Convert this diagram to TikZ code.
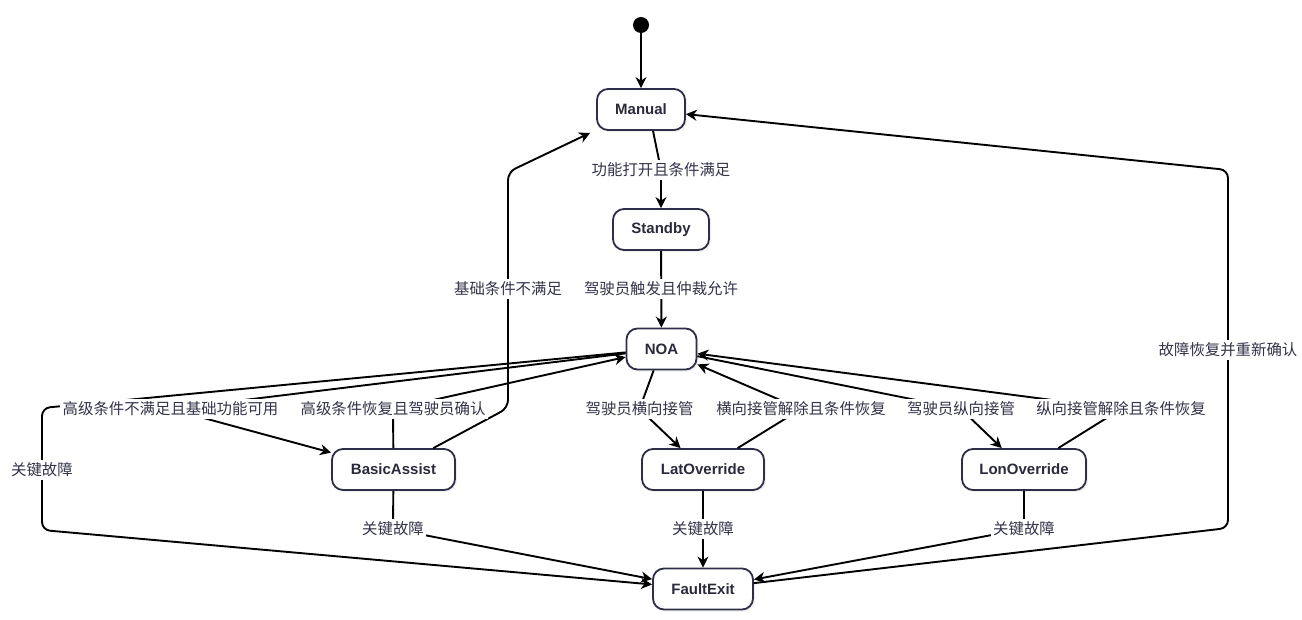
\documentclass[tikz,border=0pt]{standalone}
\usepackage{fontspec}
\setmainfont{Liberation Sans}
\newfontfamily\cjk{Noto Sans CJK SC}
\usetikzlibrary{arrows.meta,shadows}
\definecolor{nodeborder}{HTML}{2E2E48}
\definecolor{nodetext}{HTML}{2A2A3C}
\definecolor{labeltext}{HTML}{33334A}
\begin{document}
\begin{tikzpicture}[x=1pt,y=-1pt,
  state/.style={draw=nodeborder, line width=1.8pt, rounded corners=11pt, fill=white,
    minimum height=41pt, inner sep=0pt, text=nodetext,
    font=\fontsize{15}{17}\selectfont\bfseries,
    drop shadow={shadow xshift=2pt, shadow yshift=-2pt, opacity=0.12}},
  edge/.style={draw=black, line width=1.9pt, rounded corners=8pt,
    -{Stealth[length=11pt,width=11pt,inset=3.5pt]}},
  lab/.style={fill=white, text=labeltext, inner sep=2.5pt,
    font=\cjk\fontsize{15.4}{17}\selectfont}
]
\useasboundingbox (0,0) rectangle (1302,619);

% states
\node[circle, fill=black, minimum size=16pt, inner sep=0pt] (start) at (641,25) {};
\node[state, minimum width=88pt]  (Manual)  at (641,109.5) {Manual};
\node[state, minimum width=96pt]  (Standby) at (661,229.5) {Standby};
\node[state, minimum width=70pt]  (NOA)     at (661.5,349) {NOA};
\node[state, minimum width=123pt] (Basic)   at (393.5,469.5) {BasicAssist};
\node[state, minimum width=122pt] (Lat)     at (703,469.5) {LatOverride};
\node[state, minimum width=124pt] (Lon)     at (1024,469.5) {LonOverride};
\node[state, minimum width=100pt] (Fault)   at (703,589) {FaultExit};

% waypoints
\coordinate (wMS) at (661,170);
\coordinate (wSN) at (661,289);
\coordinate (wBM1) at (508,408);
\coordinate (wBM2) at (508,172);
\coordinate (wBMl) at (508,289);
\coordinate (wNB) at (170.5,409);
\coordinate (wBN) at (393,409);
\coordinate (wNF1) at (42,408);
\coordinate (wNF2) at (42,530);
\coordinate (wNFl) at (42,470);
\coordinate (wNLa) at (639.5,409);
\coordinate (wLaN) at (801,409);
\coordinate (wNLo) at (961,409);
\coordinate (wLoN) at (1121,409);
\coordinate (wBF) at (393,529);
\coordinate (wLaF) at (703,529);
\coordinate (wLoF) at (1024,529);
\coordinate (wFM1) at (1228,528);
\coordinate (wFM2) at (1228,170);
\coordinate (wFMl) at (1228,350);

% connectors
\draw[edge] (start) -- (Manual);
\draw[edge] ([xshift=12pt]Manual.south) -- (wMS) -- (Standby);
\draw[edge] (Standby) -- (NOA);
\draw[edge] (Basic) -- (wBM1) -- (wBM2) -- ([xshift=-6pt,yshift=-2pt]Manual.south west);
\draw[edge] (NOA) -- (wNB) -- (Basic);
\draw[edge] (Basic) -- (wBN) -- (NOA);
\draw[edge] (NOA) -- (wNF1) -- (wNF2) -- (Fault);
\draw[edge] (NOA) -- (wNLa) -- (Lat);
\draw[edge] (Lat) -- (wLaN) -- (NOA);
\draw[edge] (NOA) -- (wNLo) -- (Lon);
\draw[edge] (Lon) -- (wLoN) -- (NOA);
\draw[edge] (Basic) -- (wBF) -- (Fault);
\draw[edge] (Lat) -- (Fault);
\draw[edge] (Lon) -- (wLoF) -- (Fault);
\draw[edge] (Fault) -- (wFM1) -- (wFM2) -- (Manual);

% labels
\node[lab] (lMS) at (wMS) {功能打开且条件满足};
\node[lab] (lSN) at (wSN) {驾驶员触发且仲裁允许};
\node[lab] (lBM) at (wBMl) {基础条件不满足};
\node[lab] (lNB) at (wNB) {高级条件不满足且基础功能可用};
\node[lab] (lBN) at (wBN) {高级条件恢复且驾驶员确认};
\node[lab] (lNF) at (wNFl) {关键故障};
\node[lab] (lNLa) at (wNLa) {驾驶员横向接管};
\node[lab] (lLaN) at (wLaN) {横向接管解除且条件恢复};
\node[lab] (lNLo) at (wNLo) {驾驶员纵向接管};
\node[lab] (lLoN) at (wLoN) {纵向接管解除且条件恢复};
\node[lab] (lBF) at (wBF) {关键故障};
\node[lab] (lLaF) at (wLaF) {关键故障};
\node[lab] (lLoF) at (wLoF) {关键故障};
\node[lab] (lFM) at (wFMl) {故障恢复并重新确认};
\end{tikzpicture}
\end{document}
